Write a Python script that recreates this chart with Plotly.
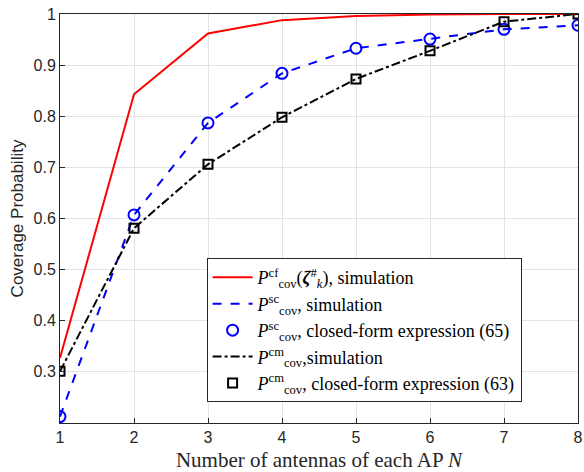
import plotly.graph_objects as go

N = [1, 2, 3, 4, 5, 6, 7, 8]
p_cf_sim = [0.327, 0.843, 0.962, 0.988, 0.996, 0.999, 1.0, 1.0]
p_sc_sim = [0.2125, 0.607, 0.787, 0.884, 0.933, 0.951, 0.970, 0.978]
p_sc_cf = [0.2125, 0.607, 0.787, 0.884, 0.933, 0.951, 0.970, 0.978]
p_cm_sim = [0.301, 0.581, 0.706, 0.798, 0.873, 0.928, 0.985, 1.0]
p_cm_cf = [0.301, 0.581, 0.706, 0.798, 0.873, 0.928, 0.985, 1.0]

x_ticks = [1, 2, 3, 4, 5, 6, 7, 8]
y_ticks = [0.3, 0.4, 0.5, 0.6, 0.7, 0.8, 0.9, 1.0]
y_tick_labels = ["0.3", "0.4", "0.5", "0.6", "0.7", "0.8", "0.9", "1"]

names = [
    "<i>P</i><sup>cf</sup><sub>cov</sub>(<b><i>ζ</i></b><sup>#</sup><sub><i>k</i></sub>), simulation",
    "<i>P</i><sup>sc</sup><sub>cov</sub>, simulation",
    "<i>P</i><sup>sc</sup><sub>cov</sub>, closed-form expression (65)",
    "<i>P</i><sup>cm</sup><sub>cov</sub>,simulation",
    "<i>P</i><sup>cm</sup><sub>cov</sub>, closed-form expression (63)",
]

SERIF = "Liberation Serif, Times New Roman, Times, serif"
SANS = "Liberation Sans, Arial, Helvetica, sans-serif"

fig = go.Figure()
fig.add_trace(go.Scatter(x=N, y=p_cf_sim, mode="lines", name=names[0],
                         line=dict(color="#ff0000", width=2)))
fig.add_trace(go.Scatter(x=N, y=p_sc_sim, mode="lines", name=names[1],
                         line=dict(color="#0000ff", width=2, dash="dash")))
fig.add_trace(go.Scatter(x=N, y=p_sc_cf, mode="markers", name=names[2],
                         marker=dict(symbol="circle-open", size=11, color="#0000ff",
                                     line=dict(width=2, color="#0000ff"))))
fig.add_trace(go.Scatter(x=N, y=p_cm_sim, mode="lines", name=names[3],
                         line=dict(color="#000000", width=2, dash="dashdot")))
fig.add_trace(go.Scatter(x=N, y=p_cm_cf, mode="markers", name=names[4],
                         marker=dict(symbol="square-open", size=9, color="#000000",
                                     line=dict(width=2, color="#000000"))))

axis_common = dict(showline=True, mirror=True, linecolor="#262626", linewidth=1,
                   showgrid=True, gridcolor="#e3e3e3", gridwidth=1,
                   ticks="inside", ticklen=5, tickcolor="#262626",
                   tickfont=dict(family=SANS, size=16, color="#262626"),
                   zeroline=False, automargin=False)

fig.update_xaxes(range=[1, 8], tickvals=x_ticks,
                 title=dict(text="Number of antennas of each AP <i>N</i>",
                            font=dict(family=SERIF, size=21, color="#262626"),
                            standoff=7),
                 **axis_common)
fig.update_yaxes(range=[0.2, 1.0], tickvals=y_ticks, ticktext=y_tick_labels,
                 title=dict(text="Coverage Probability",
                            font=dict(family=SANS, size=17, color="#262626"),
                            standoff=5),
                 **axis_common)

fig.update_layout(
    width=584, height=472,
    margin=dict(l=60, r=6, t=14, b=49),
    plot_bgcolor="white", paper_bgcolor="white",
    legend=dict(x=0.283, y=0.403, xanchor="left", yanchor="top",
                bgcolor="white", bordercolor="#262626", borderwidth=1,
                font=dict(family=SERIF, size=18, color="#000000"),
                tracegroupgap=0, itemwidth=40),
    showlegend=True,
)

fig.write_html("out.html", config={"displayModeBar": False},
               post_script="document.body.style.margin='0';document.body.style.overflow='hidden';")
